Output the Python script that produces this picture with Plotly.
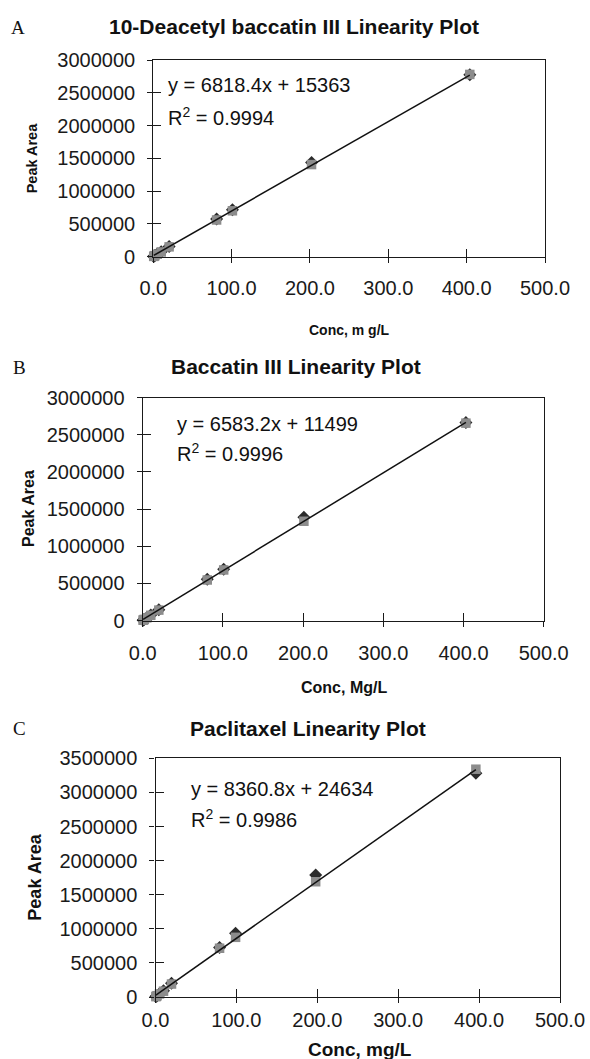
import numpy as np
import plotly.graph_objects as go

W, H = 590, 1059

# ---------------- data ----------------
titles = ["10-Deacetyl baccatin III Linearity Plot", "Baccatin III Linearity Plot", "Paclitaxel Linearity Plot"]
panel_letters = ["A", "B", "C"]
x_titles = ["Conc, m g/L", "Conc, Mg/L", "Conc, mg/L"]
y_title = "Peak Area"

conc_A = [0.505, 1.01, 2.02, 5.05, 10.1, 20.2, 80.8, 101, 202, 404]
area_A_sq = [4500, 8500, 16000, 38000, 72000, 150000, 560000, 700000, 1405000, 2780000]
area_A_di = [4800, 9000, 16500, 40000, 75000, 155000, 575000, 715000, 1435000, 2775000]

conc_B = [0.503, 1.01, 2.01, 5.03, 10.1, 20.1, 80.5, 101, 201, 403]
area_B_sq = [4000, 8000, 15000, 36000, 70000, 140000, 545000, 680000, 1335000, 2655000]
area_B_di = [4300, 8500, 16000, 38000, 73000, 145000, 555000, 690000, 1390000, 2665000]

conc_C = [0.495, 0.99, 1.98, 4.95, 9.9, 19.8, 79.2, 99, 198, 396]
area_C_sq = [5500, 10000, 19000, 45000, 85000, 190000, 715000, 875000, 1690000, 3340000]
area_C_di = [6000, 11000, 20000, 47000, 92000, 200000, 725000, 935000, 1790000, 3280000]

slopes = [6818.4, 6583.2, 8360.8]
intercepts = [15363, 11499, 24634]
r2 = ["0.9994", "0.9996", "0.9986"]
y_max = [3000000, 3000000, 3500000]
x_max = 500

# ---------------- layout geometry (pixels) ----------------
def fx(p):
    return p / W

def fy(p):
    return 1 - p / H

boxes = [  # left, right, top, bottom (px)
    (153.3, 545.0, 60.0, 256.7),
    (142.7, 543.7, 397.5, 620.5),
    (155.5, 560.0, 758.3, 997.0),
]
title_pos = [(294, 26), (295.5, 366), (308, 728)]
letter_pos = [(18, 27), (19, 367), (19, 728)]
xtitle_pos = [(349, 330, 14), (344, 687, 16), (360, 1049, 19)]
ytitle_pos = [(32, 14.5), (29, 16), (35, 18)]
eq_pos = [(166, 85, 117), (175, 424, 452), (189, 789, 818)]
xlab_standoff = [8, 9, 0]

FONT = "Liberation Sans, Arial, sans-serif"
SERIF = "Liberation Serif, Times New Roman, serif"
AX = "#1a1a1a"

fig = go.Figure()
datasets = [
    (conc_A, area_A_sq, area_A_di),
    (conc_B, area_B_sq, area_B_di),
    (conc_C, area_C_sq, area_C_di),
]

annotations = []
for i, (conc, sq, di) in enumerate(datasets):
    n = i + 1
    xa, ya = f"x{n if n > 1 else ''}", f"y{n if n > 1 else ''}"
    m = n + 3
    xo, yo = f"x{m}", f"y{m}"
    fig.add_trace(go.Scatter(x=conc, y=di, mode="markers", xaxis=xa, yaxis=ya,
                             marker=dict(symbol="diamond", size=10, color="#2b2b2b"),
                             cliponaxis=False, showlegend=False))
    fig.add_trace(go.Scatter(x=conc, y=sq, mode="markers", xaxis=xa, yaxis=ya,
                             marker=dict(symbol="square", size=9.5, color="#8c8c8c"),
                             cliponaxis=False, showlegend=False))
    xs = np.array([min(conc), max(conc)])
    fig.add_trace(go.Scatter(x=xs, y=slopes[i] * xs + intercepts[i], mode="lines",
                             xaxis=xo, yaxis=yo, line=dict(color="#111111", width=1.5),
                             cliponaxis=False, showlegend=False))

    l, r, t, b = boxes[i]
    dom_x = [fx(l), fx(r)]
    dom_y = [fy(b), fy(t)]
    common_x = dict(domain=dom_x, range=[0, x_max], dtick=100, tick0=0, showgrid=False,
                    zeroline=False, automargin=False, fixedrange=True)
    common_y = dict(domain=dom_y, range=[0, y_max[i]], dtick=500000, tick0=0, showgrid=False,
                    zeroline=False, automargin=False, fixedrange=True)
    fig.update_layout(**{
        f"xaxis{n if n > 1 else ''}": dict(**common_x, anchor=ya, showline=True, linecolor=AX,
                                          linewidth=1.3, mirror=True, ticks="outside", ticklen=5,
                                          tickcolor=AX, tickwidth=1.3, tickformat=".1f",
                                          ticklabelstandoff=xlab_standoff[i],
                                          tickfont=dict(family=FONT, size=20, color="#1a1a1a")),
        f"yaxis{n if n > 1 else ''}": dict(**common_y, anchor=xa, showline=True, linecolor=AX,
                                          linewidth=1.3, mirror=True, ticks="outside", ticklen=5,
                                          tickcolor=AX, tickwidth=1.3, tickformat="d",
                                          ticklabelstandoff=8,
                                          tickfont=dict(family=FONT, size=20, color="#1a1a1a")),
        f"xaxis{m}": dict(**common_x, anchor=yo, overlaying=xa, showline=False, ticks="inside",
                          ticklen=8, tickcolor=AX, tickwidth=1.3, showticklabels=False),
        f"yaxis{m}": dict(**common_y, anchor=xo, overlaying=ya, showline=False, ticks="inside",
                          ticklen=8, tickcolor=AX, tickwidth=1.3, showticklabels=False),
    })

    tx, ty = title_pos[i]
    annotations.append(dict(text=f"<b>{titles[i]}</b>", x=fx(tx), y=fy(ty), xref="paper", yref="paper",
                            xanchor="center", yanchor="middle", showarrow=False,
                            font=dict(family=FONT, size=21, color="#111111")))
    lx, ly = letter_pos[i]
    annotations.append(dict(text=panel_letters[i], x=fx(lx), y=fy(ly), xref="paper", yref="paper",
                            xanchor="center", yanchor="middle", showarrow=False,
                            font=dict(family=SERIF, size=19, color="#111111")))
    cx, cy, cs = xtitle_pos[i]
    annotations.append(dict(text=f"<b>{x_titles[i]}</b>", x=fx(cx), y=fy(cy), xref="paper", yref="paper",
                            xanchor="center", yanchor="middle", showarrow=False,
                            font=dict(family=FONT, size=cs, color="#111111")))
    yx, ys = ytitle_pos[i]
    annotations.append(dict(text=f"<b>{y_title}</b>", x=fx(yx), y=fy((t + b) / 2), xref="paper", yref="paper",
                            xanchor="center", yanchor="middle", textangle=-90, showarrow=False,
                            font=dict(family=FONT, size=ys, color="#111111")))
    ex, ey1, ey2 = eq_pos[i]
    annotations.append(dict(text=f"y = {slopes[i]}x + {intercepts[i]}", x=fx(ex), y=fy(ey1),
                            xref="paper", yref="paper", xanchor="left", yanchor="middle", showarrow=False,
                            font=dict(family=FONT, size=20, color="#111111")))
    annotations.append(dict(text=f"R<sup>2</sup> = {r2[i]}", x=fx(ex), y=fy(ey2),
                            xref="paper", yref="paper", xanchor="left", yanchor="middle", showarrow=False,
                            font=dict(family=FONT, size=20, color="#111111")))

fig.update_layout(width=W, height=H, margin=dict(l=0, r=0, t=0, b=0),
                  paper_bgcolor="white", plot_bgcolor="white", showlegend=False,
                  annotations=annotations)

fig.write_html("out.html")
